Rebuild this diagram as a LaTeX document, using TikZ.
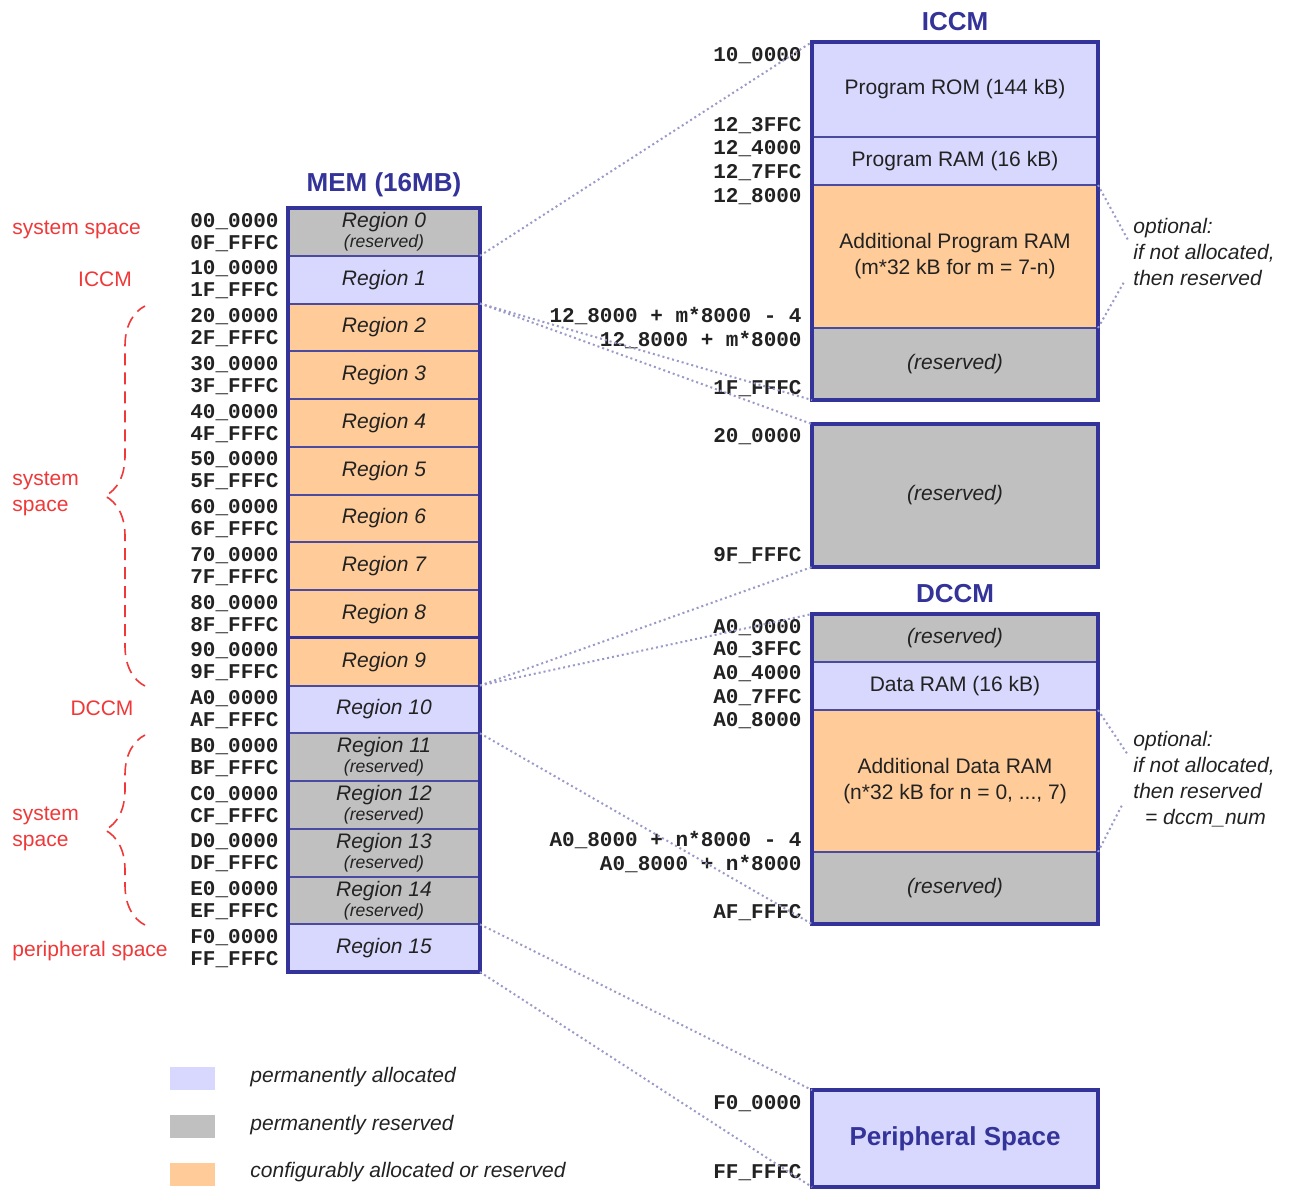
\documentclass[tikz,border=0pt]{standalone}
\usepackage{fontspec}
\setmainfont{Liberation Sans}
\setmonofont{Liberation Mono}
\usetikzlibrary{decorations.pathreplacing}
\definecolor{lav}{HTML}{D8D8FF}
\definecolor{gry}{HTML}{C0C0C0}
\definecolor{org}{HTML}{FFCC99}
\definecolor{navy}{HTML}{333399}
\definecolor{sepc}{HTML}{4A4AA0}
\definecolor{redl}{HTML}{F03838}
\definecolor{dotc}{HTML}{9A9AC8}
\definecolor{txt}{HTML}{222222}
\newcommand{\myresfont}{\fontsize{8.8}{9}\selectfont\itshape}
\begin{document}
\begin{tikzpicture}[x=0.5pt,y=-0.5pt,
  reg/.style={draw=sepc, line width=1pt, inner sep=0pt, outer sep=0pt,
    minimum width=96pt, minimum height=23.875pt,
    font=\fontsize{10.5}{11}\selectfont\itshape, text=txt, align=center},
  blk/.style={draw=sepc, line width=1pt, inner sep=0pt, outer sep=0pt,
    minimum width=143pt, font=\fontsize{10.5}{13}\selectfont, text=txt, align=center},
  outer/.style={draw=navy, line width=2pt, inner sep=0pt, outer sep=0pt},
  addr/.style={font=\fontsize{10.5}{11}\selectfont\ttfamily\bfseries, text=txt, inner sep=0pt, anchor=base east},
  redlab/.style={font=\fontsize{10.5}{13}\selectfont, text=redl, inner sep=0pt, align=left},
  title/.style={font=\fontsize{13}{15}\selectfont\bfseries, text=navy, inner sep=0pt},
  conn/.style={draw=dotc, line width=1pt, dash pattern=on 1pt off 1.5pt},
  bracestyle/.style={draw=redl, line width=0.8pt, dash pattern=on 6pt off 3.5pt,
    decorate, decoration={brace, amplitude=20pt}},
  note/.style={font=\fontsize{10.5}{13}\selectfont\itshape, text=txt, inner sep=0pt, align=left, anchor=north west},
  legsq/.style={inner sep=0pt, outer sep=0pt, minimum width=22.5pt, minimum height=11.5pt},
  legtxt/.style={font=\fontsize{10.5}{12}\selectfont\itshape, text=txt, inner sep=0pt, anchor=west}
]
\useasboundingbox (0,0) rectangle (1294,1200);
\fill[white] (0,0) rectangle (1294,1200);

% ---------------- MEM column ----------------
\node[title] (memt) at (384,185) {MEM (16MB)};
\node[reg, fill=gry] (r0) at (384,231.875) {Region 0\\[-1pt]{\myresfont (reserved)}};
\node[reg, fill=lav] (r1) at (384,279.625) {Region 1};
\node[reg, fill=org] (r2) at (384,327.375) {Region 2};
\node[reg, fill=org] (r3) at (384,375.125) {Region 3};
\node[reg, fill=org] (r4) at (384,422.875) {Region 4};
\node[reg, fill=org] (r5) at (384,470.625) {Region 5};
\node[reg, fill=org] (r6) at (384,518.375) {Region 6};
\node[reg, fill=org] (r7) at (384,566.125) {Region 7};
\node[reg, fill=org] (r8) at (384,613.875) {Region 8};
\node[reg, fill=org] (r9) at (384,661.625) {Region 9};
\node[reg, fill=lav] (r10) at (384,709.375) {Region 10};
\node[reg, fill=gry] (r11) at (384,757.125) {Region 11\\[-1pt]{\myresfont (reserved)}};
\node[reg, fill=gry] (r12) at (384,804.875) {Region 12\\[-1pt]{\myresfont (reserved)}};
\node[reg, fill=gry] (r13) at (384,852.625) {Region 13\\[-1pt]{\myresfont (reserved)}};
\node[reg, fill=gry] (r14) at (384,900.375) {Region 14\\[-1pt]{\myresfont (reserved)}};
\node[reg, fill=lav] (r15) at (384,948.125) {Region 15};
\draw[draw=navy, line width=1.3pt] (r8.south west) -- (r8.south east);
\node[outer, minimum width=96pt, minimum height=382pt] (mem) at (384,590) {};

% MEM addresses
\foreach \i/\h in {0/0,1/1,2/2,3/3,4/4,5/5,6/6,7/7,8/8,9/9,10/A,11/B,12/C,13/D,14/E,15/F}{
  \pgfmathsetmacro{\rtop}{208+47.75*\i}
  \node[addr] (as\i) at (279,\rtop+19) {\h0\_0000};
  \node[addr] (ae\i) at (279,\rtop+41) {\h F\_FFFC};
}

% left red labels
\node[redlab, anchor=west] (ls1) at (12,230) {system space};
\node[redlab] (licc) at (105,279) {ICCM};
\node[redlab, anchor=west] (ls2) at (12,494) {system\\space};
\node[redlab] (ldcc) at (102,708) {DCCM};
\node[redlab, anchor=west] (ls3) at (12,829) {system\\space};
\node[redlab, anchor=west] (lper) at (12,951) {peripheral space};
\coordinate (b1a) at (145,686);
\coordinate (b1b) at (145,306);
\coordinate (b2a) at (145,925);
\coordinate (b2b) at (145,735);
\draw[bracestyle] (b1a) -- (b1b);
\draw[bracestyle] (b2a) -- (b2b);

% ---------------- ICCM ----------------
\node[title] (icct) at (955,22) {ICCM};
\node[blk, fill=lav, minimum height=47.5pt] (prom) at (955,89.5) {Program ROM (144 kB)};
\node[blk, fill=lav, minimum height=24pt] (pram) at (955,161) {Program RAM (16 kB)};
\node[blk, fill=org, minimum height=71.5pt] (apram) at (955,256.5) {Additional Program RAM\\(m*32 kB for m = 7-n)};
\node[blk, fill=gry, minimum height=36pt, font=\fontsize{10.5}{13}\selectfont\itshape] (ires) at (955,364) {(reserved)};
\node[outer, minimum width=143pt, minimum height=179pt] (iccm) at (955,221) {};

\node[addr] (i1) at (802,61) {10\_0000};
\node[addr] (i2) at (802,131) {12\_3FFC};
\node[addr] (i3) at (802,154) {12\_4000};
\node[addr] (i4) at (802,178) {12\_7FFC};
\node[addr] (i5) at (802,202) {12\_8000};
\node[addr] (i6) at (802,322) {12\_8000 + m*8000 - 4};
\node[addr] (i7) at (802,346) {12\_8000 + m*8000};
\node[addr] (i8) at (802,394) {1F\_FFFC};

\node[note] (n1) at (1133,218) {optional:\\if not allocated,\\then reserved};
\coordinate (n1a) at (1128,240);
\coordinate (n1b) at (1124,282);
\draw[conn] (apram.north east) -- (n1a);
\draw[conn] (apram.south east) -- (n1b);

% ---------------- big reserved ----------------
\node[blk, fill=gry, minimum height=71.5pt, font=\fontsize{10.5}{13}\selectfont\itshape] (bres) at (955,495.5) {(reserved)};
\node[outer, minimum width=143pt, minimum height=71.5pt] (bresb) at (955,495.5) {};
\node[addr] (b1) at (802,442) {20\_0000};
\node[addr] (b2) at (802,561) {9F\_FFFC};

% ---------------- DCCM ----------------
\node[title] (dcct) at (955,594) {DCCM};
\node[blk, fill=gry, minimum height=24pt, font=\fontsize{10.5}{13}\selectfont\itshape] (dres1) at (955,638) {(reserved)};
\node[blk, fill=lav, minimum height=24pt] (dram) at (955,686) {Data RAM (16 kB)};
\node[blk, fill=org, minimum height=71pt] (adram) at (955,781) {Additional Data RAM\\(n*32 kB for n = 0, ..., 7)};
\node[blk, fill=gry, minimum height=36pt, font=\fontsize{10.5}{13}\selectfont\itshape] (dres2) at (955,888) {(reserved)};
\node[outer, minimum width=143pt, minimum height=155pt] (dccm) at (955,769) {};

\node[addr] (d1) at (802,633) {A0\_0000};
\node[addr] (d2) at (802,655) {A0\_3FFC};
\node[addr] (d3) at (802,679) {A0\_4000};
\node[addr] (d4) at (802,703) {A0\_7FFC};
\node[addr] (d5) at (802,726) {A0\_8000};
\node[addr] (d6) at (802,846) {A0\_8000 + n*8000 - 4};
\node[addr] (d7) at (802,870) {A0\_8000 + n*8000};
\node[addr] (d8) at (802,918) {AF\_FFFC};

\node[note] (n2) at (1133,731) {optional:\\if not allocated,\\then reserved\\\ \ = dccm\_num};
\coordinate (n2a) at (1128,755);
\coordinate (n2b) at (1122,805);
\draw[conn] (adram.north east) -- (n2a);
\draw[conn] (adram.south east) -- (n2b);

% ---------------- Peripheral ----------------
\node[blk, fill=lav, draw=navy, line width=2pt, minimum height=48.5pt, font=\fontsize{13}{15}\selectfont\bfseries, text=navy] (periph) at (955,1138.5) {Peripheral Space};
\node[addr] (p1) at (802,1109) {F0\_0000};
\node[addr] (p2) at (802,1178) {FF\_FFFC};

% ---------------- connectors ----------------
\draw[conn] (r0.south east) -- (prom.north west);
\draw[conn] (r1.south east) -- (ires.south west);
\draw[conn] (r1.south east) -- (bres.north west);
\draw[conn] (r9.south east) -- (bres.south west);
\draw[conn] (r9.south east) -- (dres1.north west);
\draw[conn] (r10.south east) -- (dres2.south west);
\draw[conn] (r14.south east) -- (periph.north west);
\draw[conn] (r15.south east) -- (periph.south west);

% ---------------- legend ----------------
\node[legsq, fill=lav] (lg1) at (192.5,1078.5) {};
\node[legsq, fill=gry] (lg2) at (192.5,1126.5) {};
\node[legsq, fill=org] (lg3) at (192.5,1174.5) {};
\node[legtxt] (lt1) at (250,1077) {permanently allocated};
\node[legtxt] (lt2) at (250,1125) {permanently reserved};
\node[legtxt] (lt3) at (250,1172) {configurably allocated or reserved};
\end{tikzpicture}
\end{document}
